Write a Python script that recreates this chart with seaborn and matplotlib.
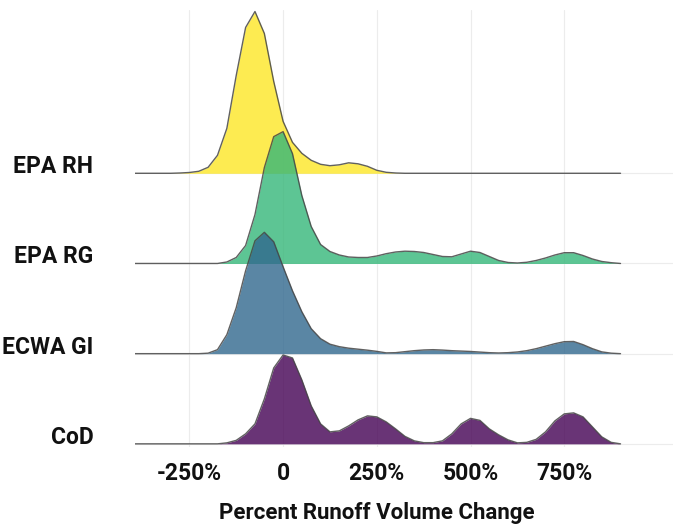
import numpy as np
import pandas as pd
import seaborn as sns
import matplotlib.pyplot as plt

# sample positions (percent runoff volume change) and ridge heights
percent_change = list(range(-400, 901, 25))
groups = ["CoD", "ECWA GI", "EPA RG", "EPA RH"]

cod = [0, 0, 0, 0, 0, 0, 0, 0, 0, 0,
       1, 3.5, 10, 20, 45, 76, 89, 86, 64, 38, 20, 12, 13, 18, 24, 28, 27, 22, 15, 7.5,
       3, 1.2, 1.2, 3, 10, 20, 25.5, 23.5, 15, 9, 4, 1, 1.5, 4.5, 12, 23, 30, 31, 27, 17,
       7, 1.5, 0]
ecwa_gi = [0, 0, 0, 0, 0, 0, 0, 0,
           0.5, 4, 19, 46, 83, 113, 121.5, 112, 87, 63, 42, 25, 15, 9.5, 7, 5.5, 4.5, 3.5,
           2.3, 0.8, 1, 2, 3, 3.7, 4, 3.6, 3, 2.6, 2.2, 1.6, 1, 0.7, 1, 1.7, 3, 5, 7.5, 10,
           12, 12.2, 9, 5, 1.8, 0.5, 0]
epa_rg = [0, 0, 0, 0, 0, 0, 0, 0, 0, 0,
          1.5, 6, 18, 49, 96, 127, 132, 110, 68, 37, 19, 12, 8.5, 6.5, 6, 6, 7.5, 9.8, 11.5,
          12.3, 12, 11, 9, 7, 6.7, 9.5, 12.3, 11, 7, 3, 1, 0.5, 1.2, 3, 5.5, 8.5, 10.8, 10.8,
          8, 4.5, 2, 0.8, 0]
epa_rh = [0, 0, 0, 0, 0, 0.3, 0.8, 2, 6, 18, 45, 98, 146, 162, 140, 92, 52, 31, 20, 13, 9,
          7.6, 8.5, 10.5, 9.5, 7, 3, 1, 0.3,
          0, 0, 0, 0, 0, 0, 0, 0, 0, 0, 0, 0, 0, 0, 0, 0, 0, 0, 0, 0, 0, 0, 0, 0]

x_ticks = [-250, 0, 250, 500, 750]
x_tick_labels = ["-250%", "0", "250%", "500%", "750%"]

rows = []
for g, vals in zip(groups, [cod, ecwa_gi, epa_rg, epa_rh]):
    rows.append(pd.DataFrame({"group": g, "change": percent_change, "height": vals}))
df = pd.concat(rows, ignore_index=True)

sns.set_theme(style="whitegrid", rc={"grid.color": "#ececec", "grid.linewidth": 0.8})
plt.rcParams["font.family"] = ["Roboto", "DejaVu Sans"]

colors = sns.color_palette("viridis", as_cmap=True)(np.linspace(0, 1, 4))
row_height = 90.3  # heights above are in the same units as the ridge spacing

fig = plt.figure(figsize=(6.73, 5.29), dpi=100)
ax = fig.add_axes([0.2006, 0.155, 0.7994, 0.826])

# draw top ridge first so lower ridges overlap it
for i in reversed(range(len(groups))):
    sub = df[df["group"] == groups[i]]
    y = i + sub["height"].to_numpy() / row_height
    z = 10 + (len(groups) - i) * 2
    ax.fill_between(sub["change"], i, y, color=colors[i], alpha=0.8, lw=0, zorder=z)
    ax.plot(sub["change"], y, color="#454545", lw=1.0, alpha=0.85, zorder=z + 1)

ax.set_xlim(-395, 1040)
ax.set_ylim(-0.035, 4.81)
ax.set_yticks(range(len(groups)))
ax.set_yticklabels(groups, fontsize=16.5, va="baseline", fontweight="bold", color="#111111")
ax.set_xticks(x_ticks)
ax.set_xticklabels(x_tick_labels, fontsize=16.5, fontweight="bold", color="#111111")
ax.tick_params(axis="y", pad=30, length=0)
ax.tick_params(axis="x", pad=11, length=0)
ax.set_xlabel("Percent Runoff Volume Change", fontsize=16, fontweight="bold", color="#111111")
ax.xaxis.set_label_coords(0.45, -0.125)
ax.set_ylabel("")
sns.despine(ax=ax, left=True, bottom=True)

plt.savefig("out.png", dpi=100)
